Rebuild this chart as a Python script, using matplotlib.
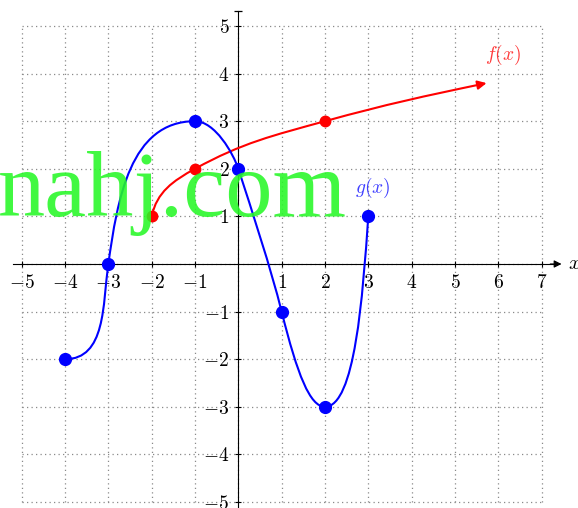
import numpy as np
import matplotlib
matplotlib.use("Agg")
import matplotlib.pyplot as plt
from matplotlib.path import Path
from matplotlib.patches import PathPatch, FancyArrowPatch

plt.rcParams['mathtext.fontset'] = 'cm'
plt.rcParams['font.family'] = ['DejaVu Serif']

# ---------------- data ----------------
x_ticks = [-5, -4, -3, -2, -1, 1, 2, 3, 4, 5, 6, 7]
y_ticks = [-5, -4, -3, -2, -1, 1, 2, 3, 4, 5]
grid_x = [-5, -4, -3, -2, -1, 0, 1, 2, 3, 4, 5, 6, 7]
grid_y = [-5, -4, -3, -2, -1, 0, 1, 2, 3, 4, 5]

# g(x): marked points, and per-segment leaving / arriving directions
# (degrees on screen) with handle lengths (px)
g_pts_x = [-4, -3, -1, 0, 1, 2, 3]
g_pts_y = [-2, 0, 3, 2, -1, -3, 1]
g_out_deg = [0, 82, 0, -72, -76, 0]
g_in_deg = [82, 0, -72, -76, 0, 86]
g_out_len = [41, 65, 20, 45, 65, 30]
g_in_len = [41, 65, 16, 45, 15, 80]

# f(x): marked points plus the arrow tip
f_curve_x = [-2, -1, 2, 5.73]
f_curve_y = [1, 2, 3, 3.80]
f_out_deg = [78, 28.8, 15.4]
f_in_deg = [28.8, 15.4, 11.8]
f_out_len = [25, 54, 65]
f_in_len = [25, 54, 65]
f_pts_x = [-2, -1, 2]
f_pts_y = [1, 2, 3]

fig = plt.figure(figsize=(5.78, 5.08), dpi=100)
ax = fig.add_axes([0, 0, 1, 1])
ax.set_xlim(-5.50, 7.84)
ax.set_ylim(-5.126, 5.546)
ax.patch.set_alpha(0)

# pixels per data unit (for turning screen directions into data handles)
p0 = ax.transData.transform((0, 0))
sx = ax.transData.transform((1, 0))[0] - p0[0]
sy = ax.transData.transform((0, 1))[1] - p0[1]


def bezier_path(xs, ys, out_deg, in_deg, out_len, in_len):
    verts = [(xs[0], ys[0])]
    codes = [Path.MOVETO]
    for i in range(len(xs) - 1):
        a = np.radians(out_deg[i]); b = np.radians(in_deg[i])
        c1 = (xs[i] + out_len[i] * np.cos(a) / sx, ys[i] + out_len[i] * np.sin(a) / sy)
        c2 = (xs[i + 1] - in_len[i] * np.cos(b) / sx, ys[i + 1] - in_len[i] * np.sin(b) / sy)
        verts += [c1, c2, (xs[i + 1], ys[i + 1])]
        codes += [Path.CURVE4] * 3
    return Path(verts, codes)


# grid
gcol = '#8a8a8a'
ax.vlines(grid_x, min(grid_y), max(grid_y), colors=gcol, linewidth=0.9,
          linestyles=(0, (1, 2.6)), zorder=1)
ax.hlines(grid_y, min(grid_x), max(grid_x), colors=gcol, linewidth=0.9,
          linestyles=(0, (1, 2.6)), zorder=1)

# axes through the origin
for s in ['top', 'right']:
    ax.spines[s].set_visible(False)
ax.spines['left'].set_position(('data', 0))
ax.spines['bottom'].set_position(('data', 0))
ax.spines['bottom'].set_bounds(-5.2, 7.3)
ax.spines['left'].set_bounds(-5.2, 5.31)
for s in ['left', 'bottom']:
    ax.spines[s].set_linewidth(0.8)
    ax.spines[s].set_zorder(2)
ax.annotate('', xy=(7.46, 0), xytext=(7.2, 0),
            arrowprops=dict(arrowstyle='-|>', color='black', lw=0.8,
                            mutation_scale=11, shrinkA=0, shrinkB=0), zorder=2)
ax.plot([0], [5.31], marker='_', ms=6, mew=0.9, color='black', zorder=2)

ax.set_xticks(x_ticks)
ax.set_xticklabels([f'${v}$' for v in x_ticks])
ax.set_yticks(y_ticks)
ax.set_yticklabels([f'${v}$' for v in y_ticks])
ax.tick_params(axis='both', direction='inout', length=5, width=0.8,
               labelsize=14, colors='black')
ax.tick_params(axis='x', pad=5)
ax.tick_params(axis='y', pad=4)
ax.text(7.6, 0.02, '$x$', fontsize=15, ha='left', va='center')

# g(x)
gpath = bezier_path(g_pts_x, g_pts_y, g_out_deg, g_in_deg, g_out_len, g_in_len)
ax.add_patch(PathPatch(gpath, facecolor='none', edgecolor='blue', lw=1.5, zorder=4))
ax.plot(g_pts_x, g_pts_y, 'o', color='blue', ms=8.5, zorder=5)
ax.text(3.1, 1.6, '$g(x)$', color='#4040ff', fontsize=14, ha='center', va='center', zorder=6)

# f(x) with arrow at its end
fpath = bezier_path(f_curve_x, f_curve_y, f_out_deg, f_in_deg, f_out_len, f_in_len)
ax.add_patch(FancyArrowPatch(path=fpath, arrowstyle='-|>', mutation_scale=13,
                             color='red', lw=1.5, shrinkA=0, shrinkB=0, zorder=3))
ax.plot(f_pts_x, f_pts_y, 'o', color='red', ms=7.5, zorder=5)
ax.text(6.1, 4.39, '$f(x)$', color='#ff3a3a', fontsize=14, ha='center', va='center', zorder=6)

# watermark
fig.text(-0.004, 0.575, 'nahj.com', fontsize=68, family='Liberation Serif',
         color='#26f826', alpha=0.88, ha='left', va='baseline', zorder=10)

fig.savefig('out.png', dpi=100)
